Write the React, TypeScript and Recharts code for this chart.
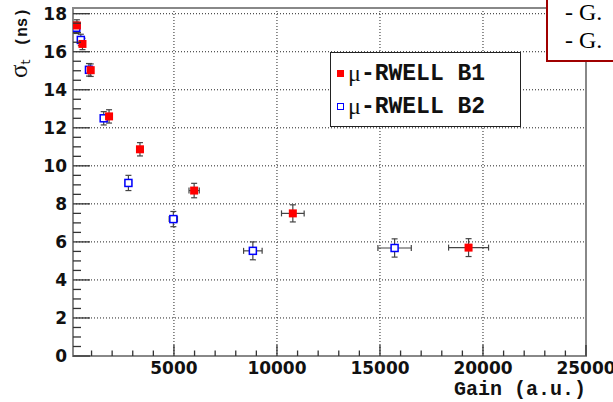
import { ScatterChart, Scatter, XAxis, YAxis, CartesianGrid, ErrorBar, Legend, ReferenceArea } from 'recharts';

// μ-RWELL B1: gain, time resolution and their errors
const B1_GAIN = [290, 560, 960, 1850, 3350, 5980, 10770, 19300];
const B1_SIGMA = [17.38, 16.41, 15.03, 12.6, 10.87, 8.7, 7.5, 5.7];
const B1_GAIN_ERR = [40, 60, 80, 120, 150, 250, 550, 970];
const B1_SIGMA_ERR = [0.3, 0.3, 0.33, 0.35, 0.35, 0.38, 0.45, 0.47];

// μ-RWELL B2
const B2_GAIN = [260, 480, 875, 1590, 2790, 4970, 8830, 15710];
const B2_SIGMA = [17.26, 16.62, 15.05, 12.5, 9.1, 7.2, 5.53, 5.68];
const B2_GAIN_ERR = [40, 60, 80, 120, 150, 200, 450, 810];
const B2_SIGMA_ERR = [0.3, 0.3, 0.33, 0.35, 0.4, 0.4, 0.47, 0.48];

const SERIES_NAMES = ['μ-RWELL B1', 'μ-RWELL B2'];

const X_MIN = 100;
const X_MAX = 25000;
const Y_MAX = 18.3;
const X_MAJOR_STEP = 5000;
const Y_MAJOR_STEP = 2;
const X_MINOR_STEP = 1000;
const Y_MINOR_STEP = 0.5;

const xTicks: number[] = [];
for (let v = X_MINOR_STEP; v <= X_MAX; v += X_MINOR_STEP) xTicks.push(v);
const yTicks: number[] = [];
for (let v = 0; v <= 18; v += Y_MINOR_STEP) yTicks.push(v);

const toRows = (gain: number[], sigma: number[], gErr: number[], sErr: number[]) =>
  gain.map((g, i) => ({ gain: g, sigma: sigma[i], gainErr: gErr[i], sigmaErr: sErr[i] }));

const b1 = toRows(B1_GAIN, B1_SIGMA, B1_GAIN_ERR, B1_SIGMA_ERR);
const b2 = toRows(B2_GAIN, B2_SIGMA, B2_GAIN_ERR, B2_SIGMA_ERR);

const TICK_FONT = { fontFamily: '"DejaVu Sans", sans-serif', fontWeight: 700, fontSize: 17, fill: '#111' };
const MONO = '"Liberation Mono", "Courier New", monospace';

const RedSquare = (p: any) => <rect x={p.cx - 4} y={p.cy - 4} width={8} height={8} fill="#ff0000" />;
const BlueSquare = (p: any) => (
  <rect x={p.cx - 3.5} y={p.cy - 3.5} width={7} height={7} fill="#fff" stroke="#0000ff" strokeWidth={1.5} />
);

function YTick({ x, y, payload }: any) {
  const major = payload.value % Y_MAJOR_STEP === 0;
  return (
    <g>
      <line x1={x} x2={x + (major ? 17 : 8)} y1={y} y2={y} stroke="#333" strokeWidth={1.3} />
      {major && (
        <text x={x - 6} y={y} dy="0.36em" textAnchor="end" {...TICK_FONT}>
          {payload.value}
        </text>
      )}
    </g>
  );
}

function XTick({ x, y, payload }: any) {
  const major = payload.value % X_MAJOR_STEP === 0;
  return (
    <g>
      <line x1={x} x2={x} y1={y} y2={y - (major ? 11 : 5.5)} stroke="#333" strokeWidth={1.3} />
      {major && (
        <text x={x} y={y + 18} textAnchor="middle" {...TICK_FONT}>
          {payload.value}
        </text>
      )}
    </g>
  );
}

function YTitle({ viewBox }: any) {
  const { x, y } = viewBox;
  return (
    <text transform={`translate(${x + 27}, ${y}) rotate(-90)`} textAnchor="end" fill="#111">
      <tspan fontFamily='"Liberation Serif", serif' fontSize={25}>σ</tspan>
      <tspan fontFamily='"DejaVu Sans", sans-serif' fontSize={13} dy={3}>t</tspan>
      <tspan fontFamily={MONO} fontWeight={700} fontSize={16} dy={-3} dx={13}>(ns)</tspan>
    </text>
  );
}

function XTitle({ viewBox }: any) {
  const { x, y, width } = viewBox;
  return (
    <text x={x + width} y={y + 39} textAnchor="end" fontFamily={MONO} fontWeight={700} fontSize={20} fill="#111">
      Gain (a.u.)
    </text>
  );
}

function LegendBox() {
  const rows = [
    { name: SERIES_NAMES[0], filled: true },
    { name: SERIES_NAMES[1], filled: false },
  ];
  return (
    <div
      style={{
        width: 191,
        height: 75,
        boxSizing: 'border-box',
        border: '1px solid #222',
        background: '#fff',
        paddingTop: 4,
      }}
    >
      {rows.map(r => (
        <div key={r.name} style={{ display: 'flex', alignItems: 'center', height: 33, paddingLeft: 6 }}>
          <span
            style={{
              width: 7,
              height: 7,
              boxSizing: 'border-box',
              background: r.filled ? '#ff0000' : '#fff',
              border: r.filled ? 'none' : '1px solid #0000ff',
              marginRight: 4,
            }}
          />
          <span style={{ fontFamily: '"Liberation Serif", serif', fontSize: 24, color: '#111' }}>
            {r.name.slice(0, 1)}
          </span>
          <span style={{ fontFamily: MONO, fontWeight: 700, fontSize: 23, color: '#111' }}>{r.name.slice(1)}</span>
        </div>
      ))}
    </div>
  );
}

export default function App() {
  return (
    <div style={{ position: 'absolute', left: 0, top: 0, width: 613, height: 402, background: '#fff' }}>
      <ScatterChart width={613} height={402} margin={{ top: 8, right: 27, bottom: 0, left: 0 }}>
        <CartesianGrid
          horizontal
          vertical
          horizontalValues={[2, 4, 6, 8, 10, 12, 14, 16, 18]}
          verticalValues={[5000, 10000, 15000, 20000]}
          stroke="#222"
          strokeDasharray="1 2"
        />
        <XAxis
          type="number"
          dataKey="gain"
          domain={[X_MIN, X_MAX]}
          allowDataOverflow
          ticks={xTicks}
          interval={0}
          tick={<XTick />}
          tickLine={false}
          tickSize={0}
          tickMargin={0}
          axisLine={false}
          height={46}
          label={<XTitle />}
        />
        <YAxis
          type="number"
          dataKey="sigma"
          domain={[0, Y_MAX]}
          allowDataOverflow
          ticks={yTicks}
          interval={0}
          tick={<YTick />}
          tickLine={false}
          tickSize={0}
          tickMargin={0}
          axisLine={false}
          width={73}
          label={<YTitle />}
        />
        <ReferenceArea x1={X_MIN} x2={X_MAX} y1={0} y2={Y_MAX} fill="none" stroke="#888" strokeWidth={2} />
        <Scatter name={SERIES_NAMES[1]} data={b2} shape={BlueSquare} isAnimationActive={false}>
          <ErrorBar dataKey="gainErr" direction="x" width={3} stroke="#444" strokeWidth={1.2} />
          <ErrorBar dataKey="sigmaErr" direction="y" width={3} stroke="#444" strokeWidth={1.2} />
        </Scatter>
        <Scatter name={SERIES_NAMES[0]} data={b1} shape={RedSquare} isAnimationActive={false}>
          <ErrorBar dataKey="gainErr" direction="x" width={3} stroke="#444" strokeWidth={1.2} />
          <ErrorBar dataKey="sigmaErr" direction="y" width={3} stroke="#444" strokeWidth={1.2} />
        </Scatter>
        <Legend
          layout="vertical"
          align="center"
          verticalAlign="middle"
          content={<LegendBox />}
          wrapperStyle={{ left: 330, top: 52, width: 191, height: 75 }}
        />
      </ScatterChart>
      <div
        style={{
          position: 'absolute',
          left: 546,
          top: -4,
          width: 90,
          height: 66,
          boxSizing: 'border-box',
          border: '2px solid #a00000',
          background: '#fff',
          paddingLeft: 17,
          fontFamily: '"Liberation Serif", serif',
          fontSize: 24,
          lineHeight: '28px',
          color: '#000',
          overflow: 'hidden',
        }}
      >
        <div>- G.</div>
        <div>- G.</div>
      </div>
    </div>
  );
}
